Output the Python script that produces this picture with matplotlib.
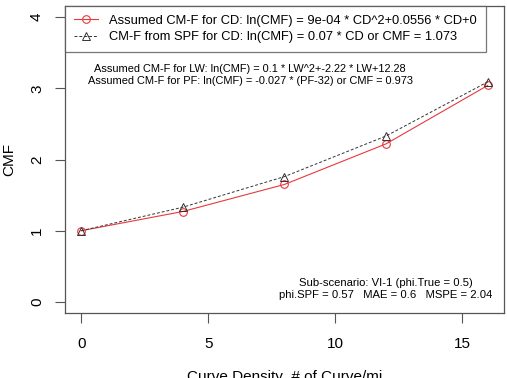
import matplotlib
matplotlib.use("Agg")
import matplotlib.pyplot as plt

plt.rcParams["font.family"] = ["Liberation Sans", "DejaVu Sans"]

# Curve density values and CMF estimates
curve_density = [0, 4, 8, 12, 16]
cmf_assumed = [1.0, 1.27, 1.65, 2.22, 3.04]
cmf_spf = [1.0, 1.33, 1.76, 2.33, 3.09]

x_ticks = [0, 5, 10, 15]
y_ticks = [0, 1, 2, 3, 4]

legend_labels = [
    "Assumed CM-F for CD: ln(CMF) = 9e-04 * CD^2+0.0556 * CD+0",
    "CM-F from SPF for CD: ln(CMF) = 0.07 * CD or CMF = 1.073",
]
note_top = ("Assumed CM-F for LW: ln(CMF) = 0.1 * LW^2+-2.22 * LW+12.28\n"
            "Assumed CM-F for PF: ln(CMF) = -0.027 * (PF-32) or CMF = 0.973")
note_bottom = ("Sub-scenario: VI-1 (phi.True = 0.5)\n"
               "phi.SPF = 0.57   MAE = 0.6   MSPE = 2.04")

fig = plt.figure(figsize=(5.07, 3.78), dpi=100)
ax = fig.add_axes([0.128, 0.171, 0.866, 0.814])

ax.plot(curve_density, cmf_assumed, color="#e8383d", lw=0.8, marker="o",
        ms=5.5, mfc="none", mec="#e8383d", mew=0.8, label=legend_labels[0])
ax.plot(curve_density, cmf_spf, color="#333333", lw=0.7, ls=(0, (3, 2)),
        marker="^", ms=6, mfc="none", mec="#333333", mew=0.7,
        label=legend_labels[1])

ax.set_xlim(-0.64, 16.64)
ax.set_ylim(-0.16, 4.16)
ax.set_xticks(x_ticks)
ax.set_yticks(y_ticks)
ax.set_yticklabels([str(v) for v in y_ticks], rotation=90, va="center")
ax.tick_params(labelsize=11, length=7, color="#555555", pad=8)
ax.tick_params(axis="x", pad=10)
for s in ax.spines.values():
    s.set_color("#555555")
    s.set_linewidth(0.9)

ax.set_xlabel("Curve Density  # of Curve/mi", fontsize=11, labelpad=14)
ax.set_ylabel("CMF", fontsize=11, labelpad=10)

leg = ax.legend(loc="upper left", bbox_to_anchor=(0.0, 1.0), fontsize=9.3,
                frameon=True, fancybox=False, borderaxespad=0,
                handlelength=1.9, handletextpad=0.8, labelspacing=0.35,
                borderpad=0.7)
leg.get_frame().set_edgecolor("#555555")
leg.get_frame().set_linewidth(0.9)

ax.text(6.65, 3.19, note_top, fontsize=7.9, ha="center", va="center",
        linespacing=1.3)
ax.text(12.0, 0.18, note_bottom, fontsize=8.1, ha="center", va="center",
        linespacing=1.3)

fig.savefig("out.png", dpi=100)
